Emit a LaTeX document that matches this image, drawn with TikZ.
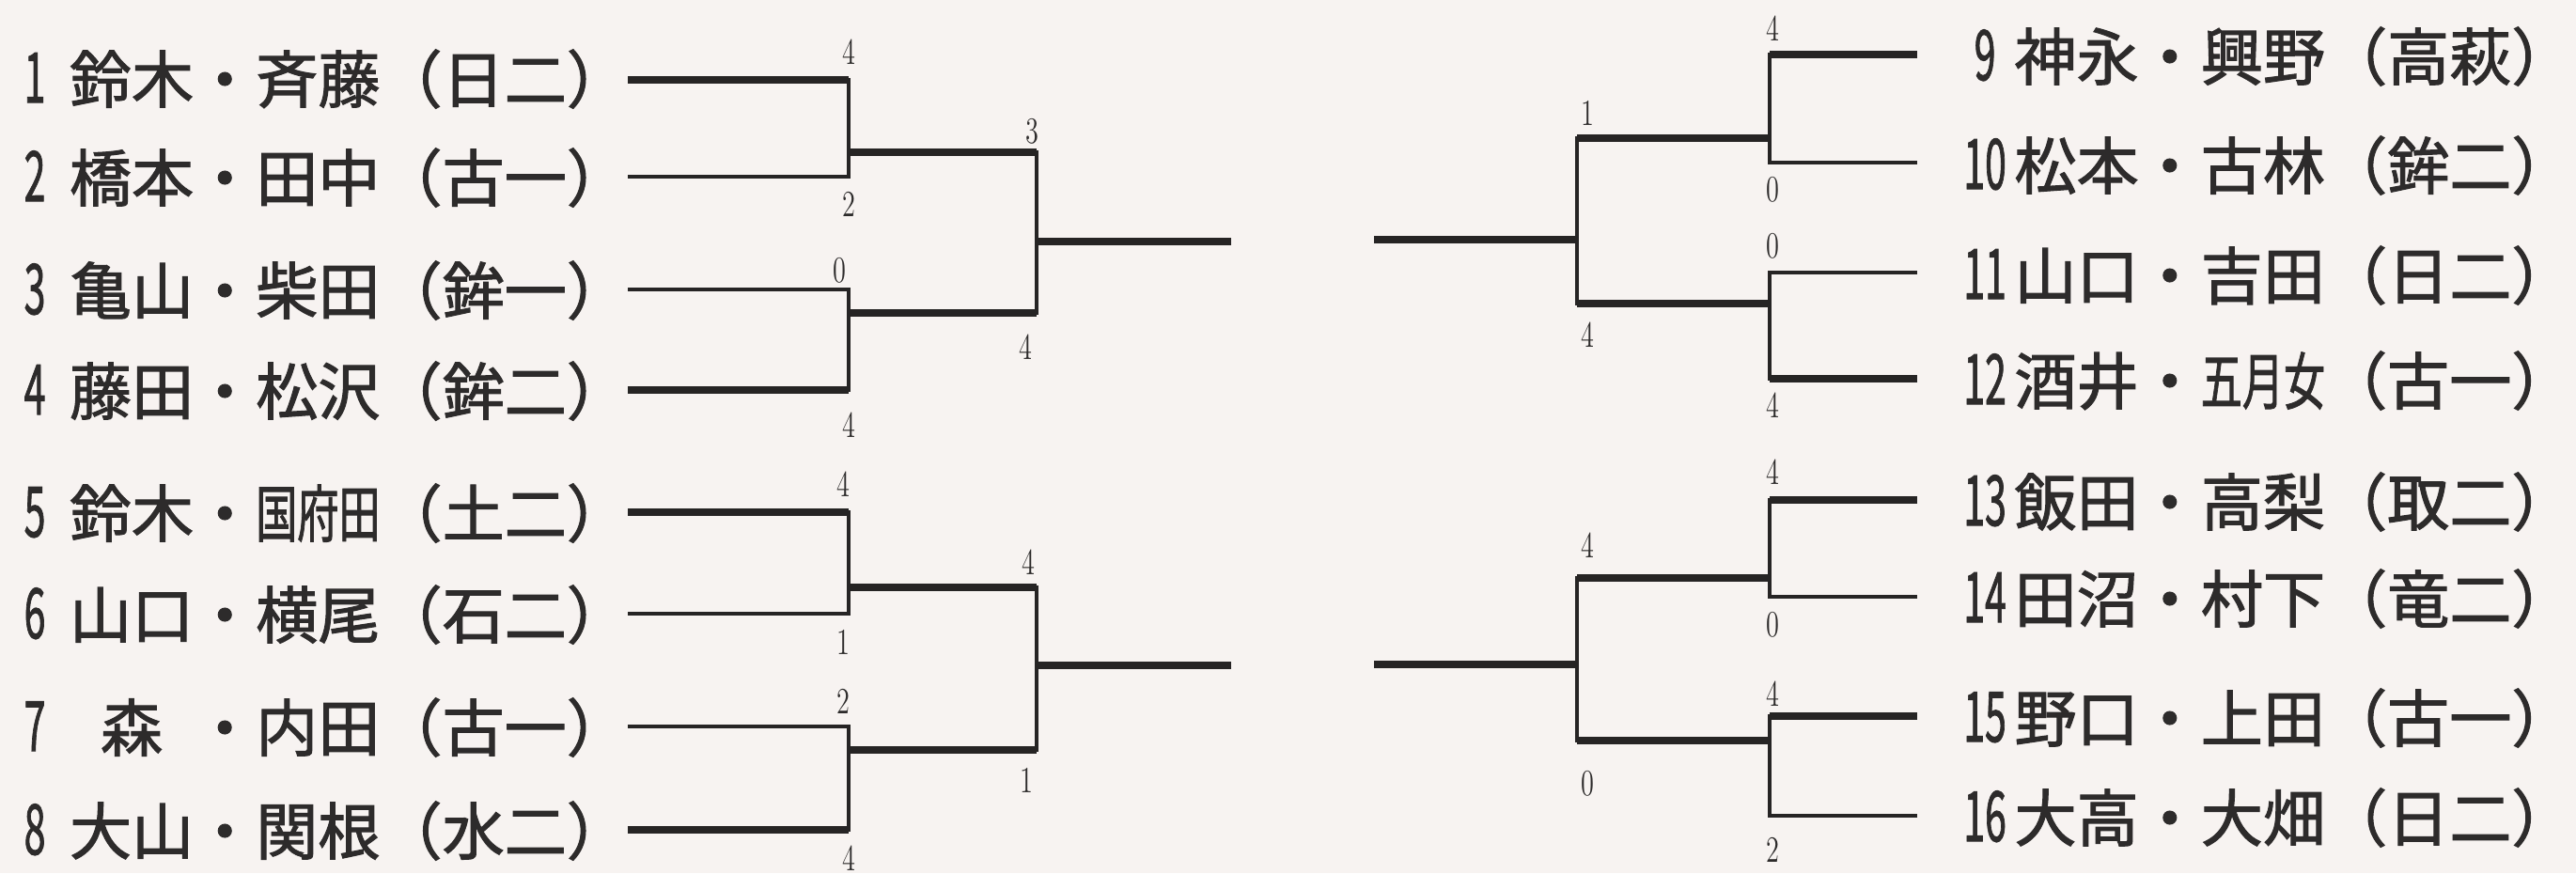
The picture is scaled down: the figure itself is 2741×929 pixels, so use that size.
\documentclass[tikz,border=0pt]{standalone}
\usepackage{fontspec}
\usepackage{graphicx}
\newfontfamily\jp[FakeBold=1.6]{Noto Sans CJK JP}
\definecolor{bgc}{RGB}{247,243,241}
\definecolor{ink}{RGB}{38,36,36}
\definecolor{inktext}{RGB}{45,43,43}
\newcommand\sqz[1]{\scalebox{0.667}[1]{#1}}
\newcommand\numL[1]{\makebox[0.73em][l]{\scalebox{0.62}[1.12]{#1}}}
\newcommand\numR[1]{\makebox[0.95em][c]{\scalebox{0.62}[1.12]{#1}}}
\newcommand\entL[4]{\numL{#1}\makebox[2em][c]{#2}・\makebox[2em][c]{#3}（#4）}
\newcommand\entR[4]{\numR{#1}\makebox[2em][c]{#2}・\makebox[2em][c]{#3}（#4）}
\newcommand\scoredigit[1]{\scalebox{0.72}[1]{#1}}
\tikzset{
  wide/.style={draw=ink, line width=2.3pt},
  narrow/.style={draw=ink, line width=1.1pt},
  vert/.style={draw=ink, line width=1.4pt, line cap=rect},
  entry/.style={inner sep=0pt, anchor=west, text=inktext, font=\jp\fontsize{18.8}{20}\selectfont},
  score/.style={inner sep=0pt, text=inktext, font=\fontsize{11.2}{12}\selectfont},
}
\begin{document}
\begin{tikzpicture}[x=0.01cm, y=-0.01cm]
\fill[bgc] (0,0) rectangle (2741,929);
\useasboundingbox (0,0) rectangle (2741,929);

% ---------- left entries ----------
\node[entry] (t1) at (25,84)  {\entL{1}{鈴木}{斉藤}{日二}};
\node[entry] (t2) at (25,189) {\entL{2}{橋本}{田中}{古一}};
\node[entry] (t3) at (25,309) {\entL{3}{亀山}{柴田}{鉾一}};
\node[entry] (t4) at (25,416) {\entL{4}{藤田}{松沢}{鉾二}};
\node[entry] (t5) at (25,546) {\entL{5}{鈴木}{\sqz{国府田}}{土二}};
\node[entry] (t6) at (25,654) {\entL{6}{山口}{横尾}{石二}};
\node[entry] (t7) at (25,774) {\entL{7}{森}{内田}{古一}};
\node[entry] (t8) at (25,884) {\entL{8}{大山}{関根}{水二}};

% ---------- right entries ----------
\node[entry] (t9)  at (2080,60)  {\entR{9}{神永}{興野}{高萩}};
\node[entry] (t10) at (2080,176) {\entR{10}{松本}{古林}{鉾二}};
\node[entry] (t11) at (2080,293) {\entR{11}{山口}{吉田}{日二}};
\node[entry] (t12) at (2080,405) {\entR{12}{酒井}{\sqz{五月女}}{古一}};
\node[entry] (t13) at (2080,534) {\entR{13}{飯田}{高梨}{取二}};
\node[entry] (t14) at (2080,637) {\entR{14}{田沼}{村下}{竜二}};
\node[entry] (t15) at (2080,764) {\entR{15}{野口}{上田}{古一}};
\node[entry] (t16) at (2080,870) {\entR{16}{大高}{大畑}{日二}};

% ---------- left bracket coordinates ----------
\coordinate (a1) at (668,85);  \coordinate (b1) at (903,85);
\coordinate (a2) at (668,188); \coordinate (b2) at (903,188);
\coordinate (a3) at (668,308); \coordinate (b3) at (903,308);
\coordinate (a4) at (668,415); \coordinate (b4) at (903,415);
\coordinate (a5) at (668,545); \coordinate (b5) at (903,545);
\coordinate (a6) at (668,653); \coordinate (b6) at (903,653);
\coordinate (a7) at (668,773); \coordinate (b7) at (903,773);
\coordinate (a8) at (668,883); \coordinate (b8) at (903,883);
\coordinate (m12) at (903,162); \coordinate (n12) at (1103,162);
\coordinate (m34) at (903,333); \coordinate (n34) at (1103,333);
\coordinate (m56) at (903,625); \coordinate (n56) at (1103,625);
\coordinate (m78) at (903,798); \coordinate (n78) at (1103,798);
\coordinate (fA) at (1103,257); \coordinate (gA) at (1310,257);
\coordinate (fB) at (1103,708); \coordinate (gB) at (1310,708);

\draw[wide] (a1) -- (b1);
\draw[narrow] (a2) -- (b2);
\draw[narrow] (a3) -- (b3);
\draw[wide] (a4) -- (b4);
\draw[wide] (a5) -- (b5);
\draw[narrow] (a6) -- (b6);
\draw[narrow] (a7) -- (b7);
\draw[wide] (a8) -- (b8);
\draw[vert] (b1) -- (b2);
\draw[vert] (b3) -- (b4);
\draw[vert] (b5) -- (b6);
\draw[vert] (b7) -- (b8);
\draw[wide] (m12) -- (n12);
\draw[wide] (m34) -- (n34);
\draw[wide] (m56) -- (n56);
\draw[wide] (m78) -- (n78);
\draw[vert] (n12) -- (n34);
\draw[vert] (n56) -- (n78);
\draw[wide] (fA) -- (gA);
\draw[wide] (fB) -- (gB);

% ---------- right bracket coordinates ----------
\coordinate (c9)  at (2040,58);  \coordinate (d9)  at (1883,58);
\coordinate (c10) at (2040,173); \coordinate (d10) at (1883,173);
\coordinate (c11) at (2040,290); \coordinate (d11) at (1883,290);
\coordinate (c12) at (2040,403); \coordinate (d12) at (1883,403);
\coordinate (c13) at (2040,532); \coordinate (d13) at (1883,532);
\coordinate (c14) at (2040,635); \coordinate (d14) at (1883,635);
\coordinate (c15) at (2040,762); \coordinate (d15) at (1883,762);
\coordinate (c16) at (2040,868); \coordinate (d16) at (1883,868);
\coordinate (m910)  at (1883,147); \coordinate (n910)  at (1678,147);
\coordinate (m1112) at (1883,323); \coordinate (n1112) at (1678,323);
\coordinate (m1314) at (1883,615); \coordinate (n1314) at (1678,615);
\coordinate (m1516) at (1883,788); \coordinate (n1516) at (1678,788);
\coordinate (fC) at (1678,255); \coordinate (gC) at (1462,255);
\coordinate (fD) at (1678,707); \coordinate (gD) at (1462,707);

\draw[wide] (c9) -- (d9);
\draw[narrow] (c10) -- (d10);
\draw[narrow] (c11) -- (d11);
\draw[wide] (c12) -- (d12);
\draw[wide] (c13) -- (d13);
\draw[narrow] (c14) -- (d14);
\draw[wide] (c15) -- (d15);
\draw[narrow] (c16) -- (d16);
\draw[vert] (d9) -- (d10);
\draw[vert] (d11) -- (d12);
\draw[vert] (d13) -- (d14);
\draw[vert] (d15) -- (d16);
\draw[wide] (m910) -- (n910);
\draw[wide] (m1112) -- (n1112);
\draw[wide] (m1314) -- (n1314);
\draw[wide] (m1516) -- (n1516);
\draw[vert] (n910) -- (n1112);
\draw[vert] (n1314) -- (n1516);
\draw[wide] (fC) -- (gC);
\draw[wide] (fD) -- (gD);

% ---------- scores, left ----------
\node[score] (s1) at (903,55)  {\scoredigit{4}};
\node[score] (s2) at (903,217) {\scoredigit{2}};
\node[score] (s3) at (893,288) {\scoredigit{0}};
\node[score] (s4) at (903,452) {\scoredigit{4}};
\node[score] (s5) at (897,515) {\scoredigit{4}};
\node[score] (s6) at (897,683) {\scoredigit{1}};
\node[score] (s7) at (897,746) {\scoredigit{2}};
\node[score] (s8) at (903,913) {\scoredigit{4}};
\node[score] (r1) at (1098,140) {\scoredigit{3}};
\node[score] (r2) at (1091,369) {\scoredigit{4}};
\node[score] (r3) at (1094,598) {\scoredigit{4}};
\node[score] (r4) at (1092,830) {\scoredigit{1}};

% ---------- scores, right ----------
\node[score] (s9)  at (1886,30)  {\scoredigit{4}};
\node[score] (s10) at (1886,202) {\scoredigit{0}};
\node[score] (s11) at (1886,262) {\scoredigit{0}};
\node[score] (s12) at (1886,431) {\scoredigit{4}};
\node[score] (s13) at (1886,502) {\scoredigit{4}};
\node[score] (s14) at (1886,665) {\scoredigit{0}};
\node[score] (s15) at (1886,738) {\scoredigit{4}};
\node[score] (s16) at (1886,904) {\scoredigit{2}};
\node[score] (r5) at (1689,120) {\scoredigit{1}};
\node[score] (r6) at (1689,356) {\scoredigit{4}};
\node[score] (r7) at (1689,580) {\scoredigit{4}};
\node[score] (r8) at (1689,834) {\scoredigit{0}};
\end{tikzpicture}
\end{document}
